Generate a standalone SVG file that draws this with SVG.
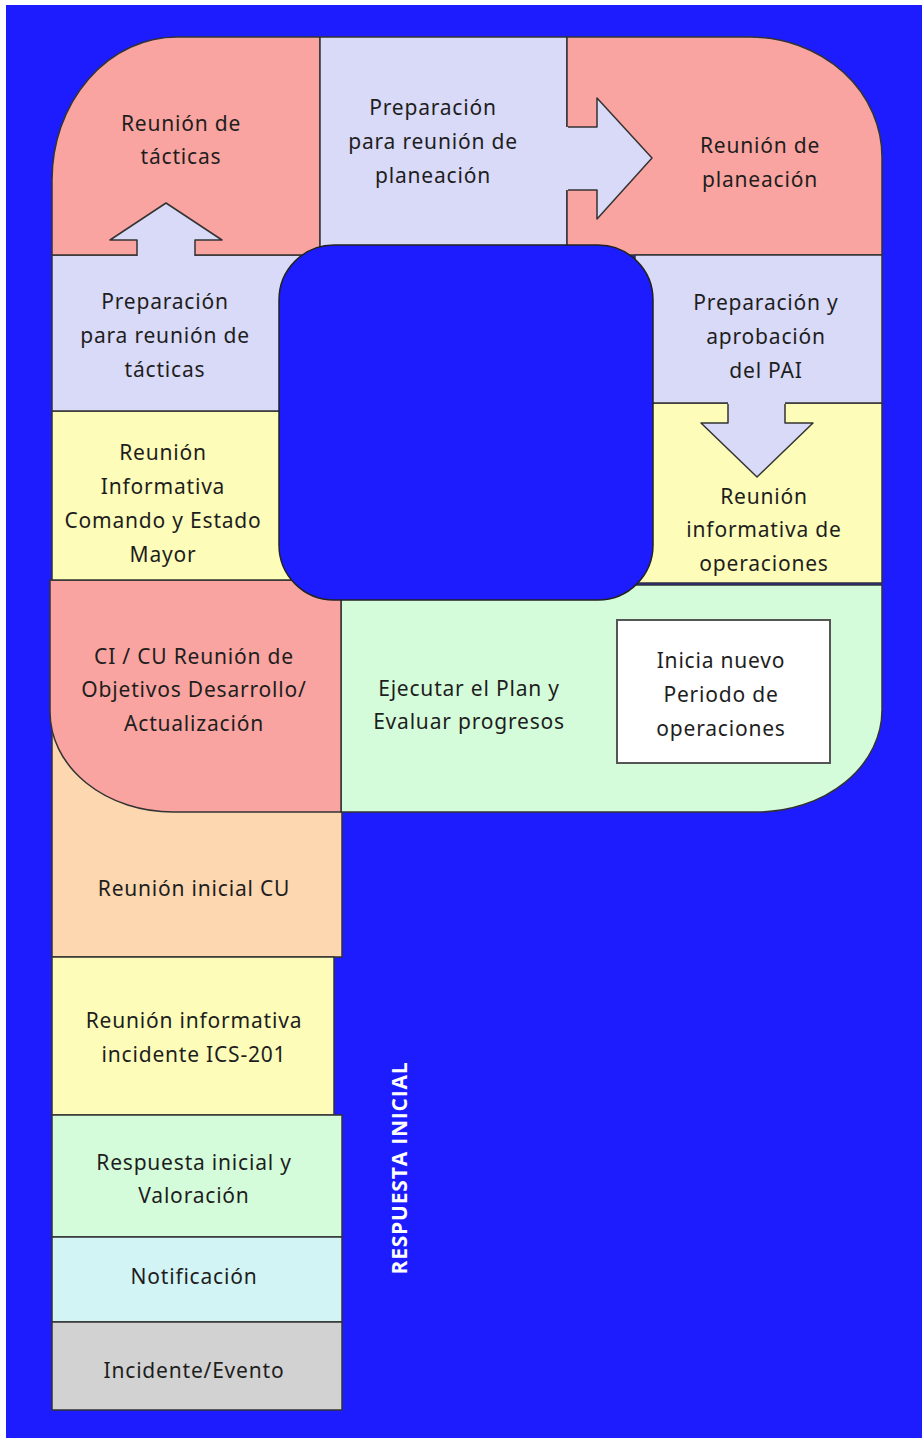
<svg xmlns="http://www.w3.org/2000/svg" width="922" height="1438" viewBox="0 0 922 1438">
  <style>
    .edge { stroke: #333; stroke-width: 1.5; stroke-linejoin: round; }
    .pink { fill: #f9a4a0; }
    .lav { fill: #d9d9f8; }
    .yel { fill: #fdfcb9; }
    .grn { fill: #d5fcda; }
    .peach { fill: #fcd7b0; }
    .cyan { fill: #d2f4f4; }
    .gray { fill: #d2d2d2; }
    .lbl { font-family: "Noto Sans", "Open Sans", sans-serif; font-size: 21px; letter-spacing: 0.8px; fill: #1e1e1e; text-anchor: middle; }
    .side { font-family: "Open Sans", "Noto Sans", sans-serif; font-size: 21px; letter-spacing: 0.8px; font-weight: bold; fill: #ffffff; text-anchor: middle; }
  </style>

  <!-- page background -->
  <rect x="0" y="0" width="922" height="1438" fill="#ffffff"/>
  <rect x="6" y="5" width="916" height="1433" fill="#1c1cff"/>

  <!-- lower stack: initial response -->
  <g id="reunion-inicial-cu">
    <rect class="peach edge" x="52" y="700" width="290" height="257"/>
    <text class="lbl" x="194" y="896">Reunión inicial CU</text>
  </g>
  <g id="reunion-informativa-ics201">
    <rect class="yel edge" x="52" y="957" width="282" height="158"/>
    <text class="lbl" x="194" y="1028">Reunión informativa</text>
    <text class="lbl" x="194" y="1062">incidente ICS-201</text>
  </g>
  <g id="respuesta-inicial">
    <rect class="grn edge" x="52" y="1115" width="290" height="122"/>
    <text class="lbl" x="194" y="1170">Respuesta inicial y</text>
    <text class="lbl" x="194" y="1203">Valoración</text>
  </g>
  <g id="notificacion">
    <rect class="cyan edge" x="52" y="1237" width="290" height="85"/>
    <text class="lbl" x="194" y="1284">Notificación</text>
  </g>
  <g id="incidente-evento">
    <rect class="gray edge" x="52" y="1322" width="290" height="88"/>
    <text class="lbl" x="194" y="1378">Incidente/Evento</text>
  </g>

  <!-- planning cycle -->
  <g id="ejecutar-plan">
    <path class="grn edge" d="M341,585 H882 V710 A125,102 0 0 1 757,812 H341 Z"/>
    <text class="lbl" x="469" y="696">Ejecutar el Plan y</text>
    <text class="lbl" x="469" y="729">Evaluar progresos</text>
  </g>
  <g id="ci-cu-objetivos">
    <path class="pink edge" d="M50,580 H341 V812 H173 A123,100 0 0 1 50,712 Z"/>
    <text class="lbl" x="194" y="664">CI / CU Reunión de</text>
    <text class="lbl" x="194" y="697">Objetivos Desarrollo/</text>
    <text class="lbl" x="194" y="731">Actualización</text>
  </g>
  <g id="reunion-informativa-cem">
    <rect class="yel edge" x="52" y="411" width="250" height="169"/>
    <text class="lbl" x="163" y="460">Reunión</text>
    <text class="lbl" x="163" y="494">Informativa</text>
    <text class="lbl" x="163" y="528">Comando y Estado</text>
    <text class="lbl" x="163" y="562">Mayor</text>
  </g>
  <g id="preparacion-tacticas">
    <rect class="lav edge" x="52" y="255" width="250" height="156"/>
    <text class="lbl" x="165" y="309">Preparación</text>
    <text class="lbl" x="165" y="343">para reunión de</text>
    <text class="lbl" x="165" y="377">tácticas</text>
  </g>
  <g id="reunion-tacticas">
    <path class="pink edge" d="M52,255 V180 A125,143 0 0 1 177,37 H320 V255 Z"/>
    <text class="lbl" x="181" y="131">Reunión de</text>
    <text class="lbl" x="181" y="164">tácticas</text>
  </g>
  <g id="preparacion-planeacion">
    <rect class="lav edge" x="320" y="37" width="247" height="223"/>
    <text class="lbl" x="433" y="115">Preparación</text>
    <text class="lbl" x="433" y="149">para reunión de</text>
    <text class="lbl" x="433" y="183">planeación</text>
  </g>
  <g id="reunion-planeacion">
    <path class="pink edge" d="M567,37 H750 A132,120 0 0 1 882,157 V255 H567 Z"/>
    <text class="lbl" x="760" y="153">Reunión de</text>
    <text class="lbl" x="760" y="187">planeación</text>
  </g>
  <g id="reunion-informativa-operaciones">
    <rect class="yel edge" x="635" y="403" width="247" height="180"/>
    <text class="lbl" x="764" y="504">Reunión</text>
    <text class="lbl" x="764" y="537">informativa de</text>
    <text class="lbl" x="764" y="571">operaciones</text>
  </g>
  <g id="preparacion-pai">
    <rect class="lav edge" x="635" y="255" width="247" height="148"/>
    <text class="lbl" x="766" y="310">Preparación y</text>
    <text class="lbl" x="766" y="344">aprobación</text>
    <text class="lbl" x="766" y="378">del PAI</text>
  </g>
  <g id="inicia-nuevo-periodo">
    <rect x="617" y="620" width="213" height="143" fill="#ffffff" stroke="#555" stroke-width="2"/>
    <text class="lbl" x="721" y="668">Inicia nuevo</text>
    <text class="lbl" x="721" y="702">Periodo de</text>
    <text class="lbl" x="721" y="736">operaciones</text>
  </g>

  <!-- central opening of the cycle -->
  <rect id="centro" x="279" y="245" width="374" height="355" rx="55" ry="55" fill="#1c1cff" stroke="#222" stroke-width="1.5"/>

  <!-- connectors: block arrows between stages -->
  <g id="connectors">
    <polygon class="lav" points="137,257 137,240 110,240 166,203 222,240 195,240 195,257"/>
    <polyline class="edge" fill="none" points="137,256 137,240 110,240 166,203 222,240 195,240 195,256"/>
    <polygon class="lav" points="566,127 597,127 597,98 652,158 597,219 597,190 566,190"/>
    <polyline class="edge" fill="none" points="568,127 597,127 597,98 652,158 597,219 597,190 568,190"/>
    <polygon class="lav" points="728,402 728,423 701,423 757,477 813,423 785,423 785,402"/>
    <polyline class="edge" fill="none" points="728,404 728,423 701,423 757,477 813,423 785,423 785,404"/>
  </g>

  <text class="side" transform="translate(407,1168) rotate(-90)">RESPUESTA INICIAL</text>
</svg>
